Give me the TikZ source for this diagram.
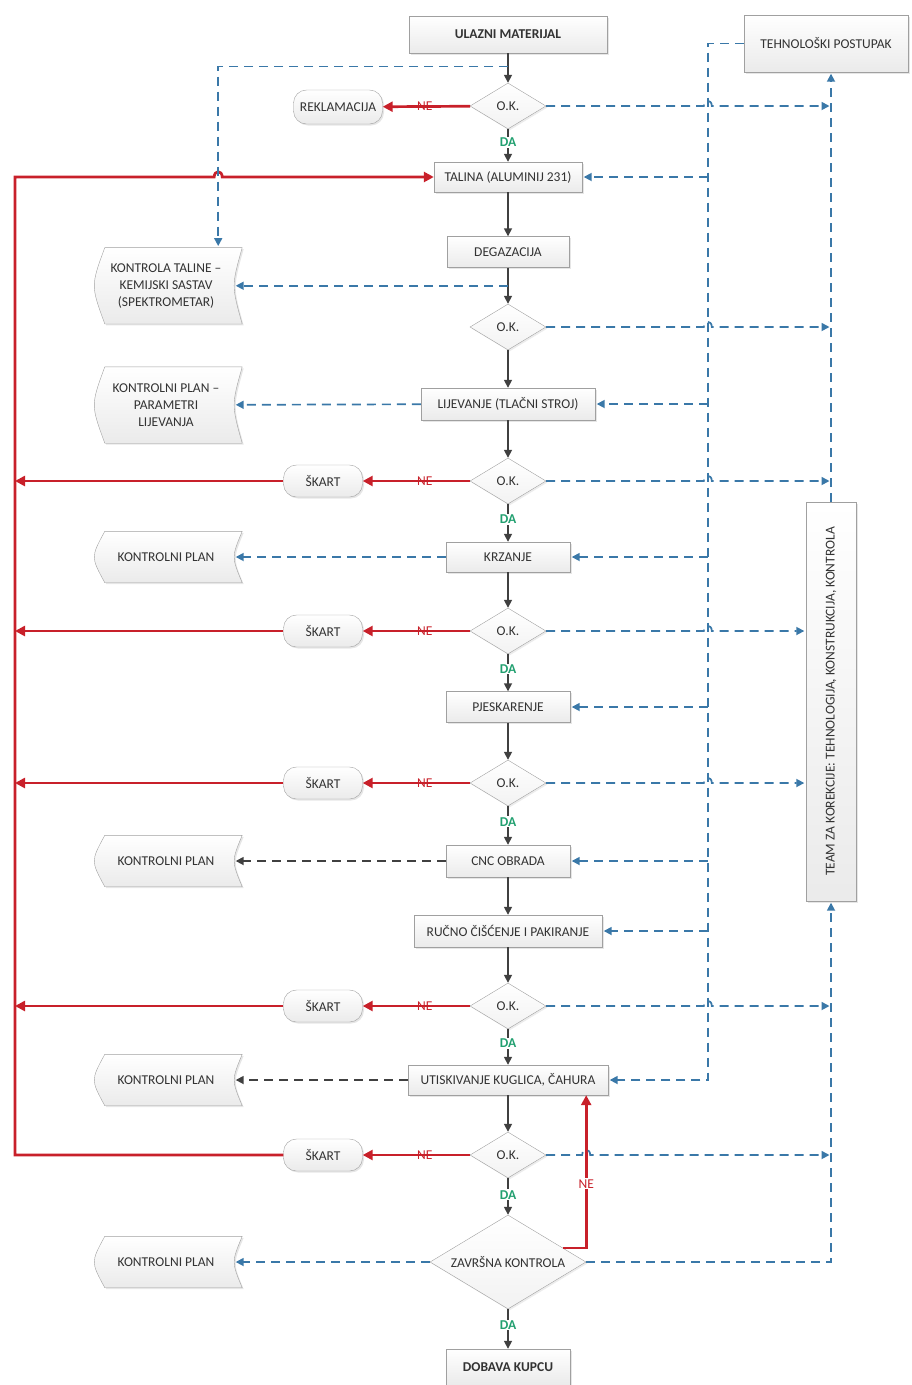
\documentclass[tikz,border=0pt]{standalone}
\usepackage{fontspec}
\setmainfont{Carlito}
\usetikzlibrary{positioning, arrows.meta, shapes.geometric, calc, backgrounds, shadows}
\definecolor{flowblue}{HTML}{3A78A8}
\definecolor{flowred}{HTML}{C8202A}
\definecolor{flowgreen}{HTML}{22A070}
\definecolor{flowgray}{HTML}{404040}
\definecolor{boxline}{HTML}{A0A0A0}
\definecolor{boxtext}{HTML}{333333}
\newcommand{\flowfont}{\fontsize{13.5}{17}\selectfont}
% small bump where a line crosses another one
\newcommand{\hopat}[1]{-- ($(#1)+(-4,0)$) .. controls ($(#1)+(-4,-7)$) and ($(#1)+(4,-7)$) .. ($(#1)+(4,0)$)}
% outline of a stored-document node
\newcommand{\docoutline}[1]{%
  \begin{scope}[on background layer]
    \draw[draw=boxline, top color=white, bottom color=gray!16,
          drop shadow={opacity=0.2, shadow xshift=1.5pt, shadow yshift=-1.5pt}]
      ([xshift=7pt]#1.north west) -- ([xshift=8pt]#1.north east)
      .. controls ([xshift=-2.7pt]#1.east) .. ([xshift=8pt]#1.south east)
      -- ([xshift=7pt]#1.south west)
      .. controls ([xshift=-7pt]#1.west) .. cycle;
  \end{scope}}
\tikzset{
  procbox/.style={
    draw=boxline, top color=white, bottom color=gray!16, text=boxtext,
    minimum height=31pt, inner xsep=5pt, font=\flowfont, align=center,
    drop shadow={opacity=0.2, shadow xshift=1.5pt, shadow yshift=-1.5pt}
  },
  okdiamond/.style={
    diamond, draw=boxline, top color=white, bottom color=gray!10, text=boxtext,
    minimum width=76pt, minimum height=46pt, inner sep=0pt, font=\flowfont,
    drop shadow={opacity=0.15, shadow xshift=1.5pt, shadow yshift=-1.5pt}
  },
  scrapbox/.style={
    procbox, rounded corners=13pt, minimum width=79pt, minimum height=32pt
  },
  docbox/.style={
    minimum width=136pt, align=center, text=boxtext, font=\flowfont
  },
  flowarrow/.style={draw=flowgray, line width=1.6pt, -{Triangle[length=8pt,width=8pt]}},
  redline/.style={draw=flowred, line width=2.7pt},
  redarrow/.style={redline, -{Triangle[length=10pt,width=10pt]}},
  bluedash/.style={draw=flowblue, line width=1.7pt, dash pattern=on 9pt off 6pt},
  bluearrow/.style={bluedash, -{Triangle[length=8pt,width=8pt]}, shorten >=1.5pt},
  grayarrow/.style={bluearrow, draw=flowgray},
  dalabel/.style={text=flowgreen, font=\flowfont\bfseries, fill=white, inner sep=1pt},
  nelabel/.style={text=flowred, font=\flowfont, inner sep=1pt}
}
\begin{document}
\begin{tikzpicture}[x=1pt, y=-1pt]
  \useasboundingbox (0,0) rectangle (912,1385);

  % main column
  \node[procbox, minimum width=198pt, minimum height=37pt, font=\flowfont\bfseries] (ulaz) at (508,34.5) {ULAZNI MATERIJAL};
  \node[okdiamond] (ok1) at (508,106) {O.K.};
  \node[procbox, minimum width=148pt, minimum height=30pt] (talina) at (508,177) {TALINA (ALUMINIJ 231)};
  \node[procbox, minimum width=122pt] (degaz) at (508,252) {DEGAZACIJA};
  \node[okdiamond] (ok2) at (508,327) {O.K.};
  \node[procbox, minimum width=174pt, minimum height=32pt] (lijev) at (508,404) {LIJEVANJE (TLAČNI STROJ)};
  \node[okdiamond] (ok3) at (508,481) {O.K.};
  \node[procbox, minimum width=124pt, minimum height=30pt] (krz) at (508,557) {KRZANJE};
  \node[okdiamond] (ok4) at (508,631) {O.K.};
  \node[procbox, minimum width=124pt] (pjesk) at (508,707) {PJESKARENJE};
  \node[okdiamond] (ok5) at (508,783) {O.K.};
  \node[procbox, minimum width=124pt, minimum height=32pt] (cnc) at (508,861) {CNC OBRADA};
  \node[procbox, minimum width=188pt, minimum height=32pt] (rucno) at (508,931) {RUČNO ČIŠĆENJE I PAKIRANJE};
  \node[okdiamond] (ok6) at (508,1006) {O.K.};
  \node[procbox, minimum width=200pt, minimum height=30pt] (utisk) at (508,1080) {UTISKIVANJE KUGLICA, ČAHURA};
  \node[okdiamond] (ok7) at (508,1155) {O.K.};
  \node[okdiamond, minimum width=156pt, minimum height=94pt] (zav) at (508,1262) {};
  \node[text=boxtext, font=\flowfont] (zavtext) at (zav.center) {ZAVRŠNA KONTROLA};
  \node[procbox, minimum width=124pt, minimum height=36pt, font=\flowfont\bfseries] (dobava) at (508,1367) {DOBAVA KUPCU};

  % rejects
  \node[scrapbox, minimum width=89pt, minimum height=34pt] (rekl) at (338,107) {REKLAMACIJA};
  \node[scrapbox] (sk3) at (323,481) {ŠKART};
  \node[scrapbox] (sk4) at (323,631) {ŠKART};
  \node[scrapbox] (sk5) at (323,783) {ŠKART};
  \node[scrapbox] (sk6) at (323,1006) {ŠKART};
  \node[scrapbox] (sk7) at (323,1155) {ŠKART};

  % control documents
  \coordinate (c1) at ($(ulaz.south)!0.45!(ok1.north)$);
  \coordinate (c2) at ($(degaz.south)!0.5!(ok2.north)$);
  \node[docbox, minimum height=76pt] (kpar) at (166,405) {KONTROLNI PLAN –\\PARAMETRI\\LIJEVANJA};
  \node[docbox, minimum height=76pt] (ktal) at (c2 -| kpar) {KONTROLA TALINE –\\KEMIJSKI SASTAV\\(SPEKTROMETAR)};
  \node[docbox, minimum height=51pt] (kp1) at (166,557) {KONTROLNI PLAN};
  \node[docbox, minimum height=51pt] (kp2) at (166,861) {KONTROLNI PLAN};
  \node[docbox, minimum height=51pt] (kp3) at (166,1080) {KONTROLNI PLAN};
  \node[docbox, minimum height=51pt] (kp4) at (166,1262) {KONTROLNI PLAN};
  \foreach \d in {ktal, kpar, kp1, kp2, kp3, kp4} {\docoutline{\d}}

  % right side
  \node[procbox, minimum width=164pt, minimum height=57pt] (tehno) at (826,43.5) {TEHNOLOŠKI POSTUPAK};
  \node[procbox, minimum width=50pt, minimum height=399pt] (team) at (831,701.5) {};
  \node[rotate=90, text=boxtext, font=\flowfont] (teamtext) at (team.center) {TEAM ZA KOREKCIJE: TEHNOLOGIJA, KONSTRUKCIJA, KONTROLA};

  \coordinate (kd) at ([xshift=-16pt]ktal.north east);
  \coordinate (trunk) at (15,0);
  \coordinate (tv) at ([xshift=-36pt]tehno.west);
  \coordinate (rx) at ([xshift=-22pt]utisk.south east);

  % main flow
  \draw[flowarrow] (ulaz) -- (ok1);
  \draw[flowarrow] (ok1) -- node[dalabel, pos=0.4] {DA} (talina);
  \draw[flowarrow] (talina) -- (degaz);
  \draw[flowarrow] (degaz) -- (ok2);
  \draw[flowarrow] (ok2) -- (lijev);
  \draw[flowarrow] (lijev) -- (ok3);
  \draw[flowarrow] (ok3) -- node[dalabel, pos=0.4] {DA} (krz);
  \draw[flowarrow] (krz) -- (ok4);
  \draw[flowarrow] (ok4) -- node[dalabel, pos=0.4] {DA} (pjesk);
  \draw[flowarrow] (pjesk) -- (ok5);
  \draw[flowarrow] (ok5) -- node[dalabel, pos=0.4] {DA} (cnc);
  \draw[flowarrow] (cnc) -- (rucno);
  \draw[flowarrow] (rucno) -- (ok6);
  \draw[flowarrow] (ok6) -- node[dalabel, pos=0.4] {DA} (utisk);
  \draw[flowarrow] (utisk) -- (ok7);
  \draw[flowarrow] (ok7) -- node[dalabel, pos=0.45] {DA} (zav);
  \draw[flowarrow] (zav) -- node[dalabel, pos=0.4] {DA} (dobava);

  % rejects back to the melt
  \draw[redarrow] (ok1) -- node[nelabel, pos=0.52] {NE} (rekl);
  \foreach \k in {3,4,5,6,7} {\draw[redarrow] (ok\k) -- node[nelabel, pos=0.42] {NE} (sk\k);}
  \foreach \k in {3,4,5,6} {\draw[redarrow] (sk\k) -- (sk\k -| trunk);}
  \draw[redarrow] (sk7) -- (sk7 -| trunk) -- (trunk |- talina) \hopat{kd |- talina} -- (talina);
  \coordinate (zr) at ($(zav.north)!0.7!(zav.east)$);
  \draw[redarrow] (zr) -| node[nelabel, fill=white, pos=0.71] {NE} (rx);

  % control documents
  \draw[bluearrow] (c1) -| (kd);
  \draw[bluearrow] (c2) -- (ktal);
  \draw[bluearrow] (lijev) -- (kpar);
  \draw[bluearrow] (krz) -- (kp1);
  \draw[grayarrow] (cnc) -- (kp2);
  \draw[grayarrow] (utisk) -- (kp3);
  \draw[bluearrow] (zav) -- (kp4);

  % technology procedure to the steps
  \draw[bluearrow] (tehno.west) -- (tv) |- (utisk.east);
  \foreach \b in {talina, lijev, krz, pjesk, cnc, rucno} {\draw[bluearrow] (tv |- \b.east) -- (\b.east);}

  % feedback to the correction team
  \foreach \k in {1,2,3,6} {\draw[bluearrow] (ok\k.east) \hopat{ok\k.east -| tv} -- (ok\k -| team);}
  \foreach \k in {4,5} {\draw[bluearrow] (ok\k.east) \hopat{ok\k.east -| tv} -- (ok\k -| team.west);}
  \draw[bluearrow] (ok7.east) \hopat{ok7.east -| rx} -- (ok7 -| team);
  \draw[bluearrow] (zav.east) -| (team.south);
  \draw[bluearrow] (team.north) -- (team.north |- tehno.south);
\end{tikzpicture}
\end{document}
